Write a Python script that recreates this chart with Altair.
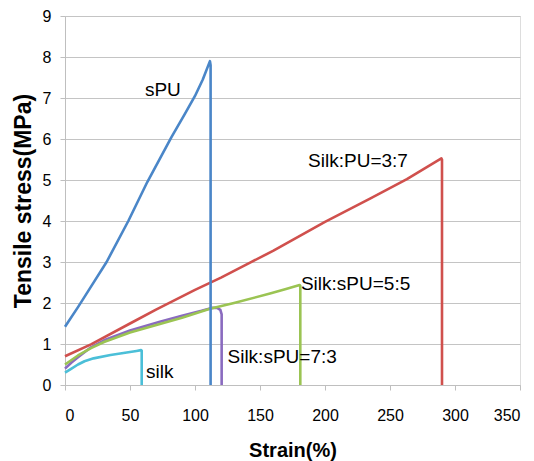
import altair as alt
import pandas as pd

# Strain (%) and tensile stress (MPa) for each sample
spu_x = [0, 10, 20, 32, 48.7, 63.3, 82, 92, 100, 106, 111.5, 112, 112]
spu_y = [1.42, 1.9, 2.4, 3.0, 4.0, 4.95, 6.05, 6.6, 7.05, 7.45, 7.9, 7.8, 0]

pu37_x = [0, 20, 50, 70, 100, 120, 142, 160, 200, 235, 263, 289.5, 290, 290]
pu37_y = [0.7, 0.99, 1.5, 1.84, 2.32, 2.62, 2.98, 3.27, 3.98, 4.55, 5.02, 5.53, 5.5, 0]

spu55_x = [0, 10, 20, 30, 50, 73, 90, 111.5, 130, 157.7, 170, 180.5, 181, 181]
spu55_y = [0.5, 0.72, 0.9, 1.05, 1.28, 1.49, 1.64, 1.86, 2.0, 2.23, 2.34, 2.44, 2.42, 0]

spu73_x = [0, 5, 10, 20, 30, 50, 73, 90, 105, 113, 117, 119.5, 120.5, 120.5]
spu73_y = [0.4, 0.55, 0.68, 0.92, 1.09, 1.33, 1.54, 1.69, 1.81, 1.88, 1.88, 1.83, 1.72, 0]

silk_x = [0, 5, 10, 15, 22, 35, 45, 55, 58.5, 59, 59]
silk_y = [0.3, 0.4, 0.5, 0.58, 0.65, 0.73, 0.78, 0.83, 0.85, 0.84, 0]

series_names = ["silk", "Silk:sPU=7:3", "Silk:sPU=5:5", "Silk:PU=3:7", "sPU"]
series_colors = ["#4bbfd8", "#8a6bbf", "#9bc453", "#d0504d", "#4a86c8"]

label_text = ["sPU", "Silk:PU=3:7", "Silk:sPU=5:5", "Silk:sPU=7:3", "silk"]
label_x = [61.5, 187, 181.5, 125, 62.3]
label_y = [7.2, 5.46, 2.46, 0.69, 0.32]

x_ticks = [0, 50, 100, 150, 200, 250, 300, 350]
y_ticks = [0, 1, 2, 3, 4, 5, 6, 7, 8, 9]

rows = []
for name, xs, ys in zip(series_names,
                        [silk_x, spu73_x, spu55_x, pu37_x, spu_x],
                        [silk_y, spu73_y, spu55_y, pu37_y, spu_y]):
    for i, (a, b) in enumerate(zip(xs, ys)):
        rows.append({"series": name, "strain": a, "stress": b, "idx": i})
df = pd.DataFrame(rows)

labels = pd.DataFrame({"text": label_text, "strain": label_x, "stress": label_y})

FONT = "Liberation Sans"

xscale = alt.Scale(domain=[0, 350], nice=False, zero=False)
yscale = alt.Scale(domain=[0, 9], nice=False, zero=False)

lines = alt.Chart(df).mark_line(strokeWidth=2.6, strokeJoin="round").encode(
    x=alt.X("strain:Q", scale=xscale,
            axis=alt.Axis(title="Strain(%)", values=x_ticks, grid=False,
                          domainColor="#bfbfbf", tickColor="#bfbfbf", tickSize=5,
                          labelFont=FONT, labelFontSize=16, labelColor="#000000",
                          labelPadding=17, titleFont=FONT, titleFontSize=20,
                          titleFontWeight="bold", titleColor="#000000", titlePadding=17)),
    y=alt.Y("stress:Q", scale=yscale,
            axis=alt.Axis(title="Tensile stress(MPa)", values=y_ticks, grid=True,
                          gridColor="#c4c4c4", gridWidth=1.2,
                          domainColor="#bfbfbf", tickColor="#bfbfbf", tickSize=5,
                          labelFont=FONT, labelFontSize=16, labelColor="#000000",
                          labelPadding=9, titleFont=FONT, titleFontSize=23,
                          titleFontWeight="bold", titleColor="#000000", titlePadding=7)),
    color=alt.Color("series:N", scale=alt.Scale(domain=series_names, range=series_colors),
                    legend=None, sort=series_names),
    order="idx:Q",
)

texts = alt.Chart(labels).mark_text(align="left", baseline="middle", font=FONT,
                                    fontSize=19, color="#000000").encode(
    x=alt.X("strain:Q", scale=xscale),
    y=alt.Y("stress:Q", scale=yscale),
    text="text:N",
)

chart = alt.layer(lines, texts).properties(
    width=455, height=369,
    autosize=alt.AutoSizeParams(type="none"),
    padding={"left": 57, "top": 8, "right": 6, "bottom": 76},
).configure_view(stroke=None).configure(background="#ffffff")

chart.save("out.html", embed_options={"renderer": "svg", "actions": False})
